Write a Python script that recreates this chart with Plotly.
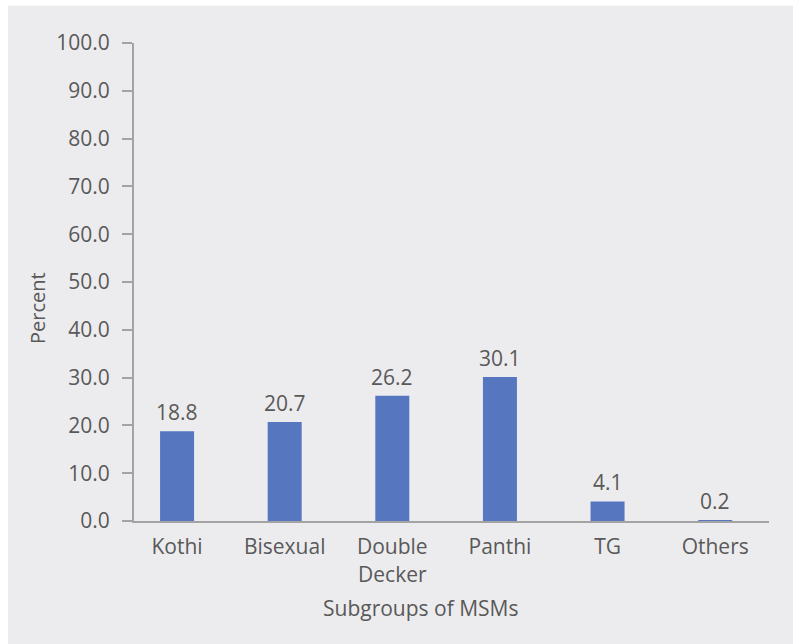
import plotly.graph_objects as go

categories = ["Kothi", "Bisexual", "Double<br>Decker", "Panthi", "TG", "Others"]
values = [18.8, 20.7, 26.2, 30.1, 4.1, 0.2]
y_ticks = [0, 10, 20, 30, 40, 50, 60, 70, 80, 90, 100]
y_tick_labels = [f"{v:.1f}" for v in y_ticks]
y_title = "Percent"
x_title = "Subgroups of MSMs"

W, H = 793, 644
L, R, T, B = 134, 24.3, 43.3, 123.3
pw = W - L - R
ph = H - T - B

def px_x(p):
    return (p - L) / pw

def px_y(p):
    return (H - B - p) / ph

FONT = "Open Sans"
TXT = "#595959"
BG = "#ECECEE"
AX = "#A3A3A3"
FS = 21

xs = list(range(len(categories)))

fig = go.Figure()
fig.add_trace(go.Bar(
    x=xs, y=values, width=0.316,
    marker=dict(color="#5677C0", line=dict(width=0)),
    hoverinfo="skip",
))

for xi, v in zip(xs, values):
    fig.add_annotation(x=xi, y=v, text=f"{v:.1f}", showarrow=False,
                       yanchor="bottom", yshift=3,
                       font=dict(family=FONT, size=FS, color=TXT))

fig.add_annotation(xref="paper", yref="paper", x=px_x(37), y=px_y(308),
                   text=y_title, textangle=-90, showarrow=False,
                   xanchor="center", yanchor="middle",
                   font=dict(family=FONT, size=FS - 1, color=TXT))
fig.add_annotation(xref="paper", yref="paper", x=px_x(421), y=px_y(608),
                   text=x_title, showarrow=False,
                   xanchor="center", yanchor="middle",
                   font=dict(family=FONT, size=FS, color=TXT))

fig.add_shape(type="rect", xref="paper", yref="paper", layer="below",
              x0=px_x(8), x1=px_x(W + 5), y0=px_y(H + 5), y1=px_y(6),
              fillcolor=BG, line=dict(width=0))

fig.update_layout(
    width=W, height=H,
    margin=dict(l=L, r=R, t=T, b=B, pad=0),
    paper_bgcolor="white", plot_bgcolor="rgba(0,0,0,0)",
    showlegend=False,
    font=dict(family=FONT, size=FS, color=TXT),
    bargap=0.684,
)
fig.update_xaxes(
    range=[-0.4, 5.5], tickmode="array", tickvals=xs, ticktext=categories,
    showgrid=False, zeroline=False, showline=True, linecolor=AX, linewidth=2,
    ticks="", ticklabelstandoff=6, tickfont=dict(family=FONT, size=FS, color=TXT),
)
fig.update_yaxes(
    range=[0, 100], tickmode="array", tickvals=y_ticks, ticktext=y_tick_labels,
    showgrid=False, zeroline=False, showline=True, linecolor=AX, linewidth=2,
    ticks="outside", ticklen=10, tickwidth=2, tickcolor=AX,
    ticklabelstandoff=8, tickfont=dict(family=FONT, size=FS, color=TXT),
)

fig.write_html("out.html")
